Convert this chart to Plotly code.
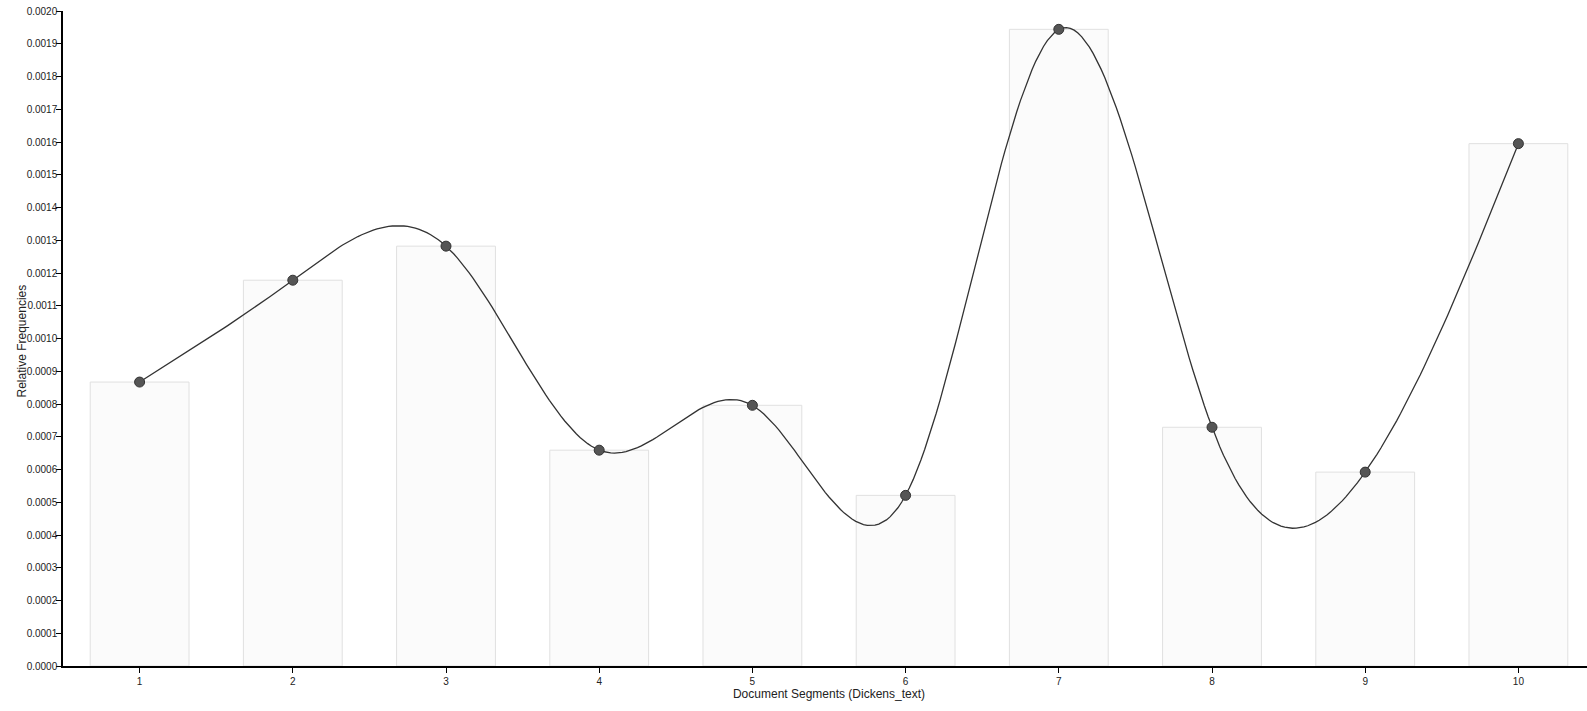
import numpy as np
import plotly.graph_objects as go

segments = [1, 2, 3, 4, 5, 6, 7, 8, 9, 10]
rel_freq = [0.000867, 0.001178, 0.001282, 0.000659, 0.000796, 0.000521, 0.001944, 0.000729, 0.000592, 0.001595]
y_ticks = [i / 10000 for i in range(0, 21)]


def natural_spline(xs, ys, n_per=40):
    """Natural cubic spline through the data points (like d3.curveNatural)."""
    x = np.asarray(xs, float)
    y = np.asarray(ys, float)
    n = len(x)
    h = np.diff(x)
    A = np.zeros((n, n))
    b = np.zeros(n)
    A[0, 0] = A[-1, -1] = 1.0
    for i in range(1, n - 1):
        A[i, i - 1] = h[i - 1]
        A[i, i] = 2 * (h[i - 1] + h[i])
        A[i, i + 1] = h[i]
        b[i] = 6 * ((y[i + 1] - y[i]) / h[i] - (y[i] - y[i - 1]) / h[i - 1])
    M = np.linalg.solve(A, b)
    xo, yo = [], []
    for i in range(n - 1):
        t = np.linspace(x[i], x[i + 1], n_per, endpoint=(i == n - 2))
        a = x[i + 1] - t
        c = t - x[i]
        s = (M[i] * a ** 3 + M[i + 1] * c ** 3) / (6 * h[i]) \
            + (y[i] / h[i] - M[i] * h[i] / 6) * a \
            + (y[i + 1] / h[i] - M[i + 1] * h[i] / 6) * c
        xo.extend(t)
        yo.extend(s)
    return xo, yo


cx, cy = natural_spline(segments, rel_freq)

fig = go.Figure()
fig.add_trace(go.Bar(
    x=segments, y=rel_freq,
    marker=dict(color="#fbfbfb", line=dict(color="#e0e0e0", width=1)),
    hoverinfo="skip", showlegend=False,
))
fig.add_trace(go.Scatter(
    x=cx, y=cy, mode="lines",
    line=dict(color="#333333", width=1.3),
    hoverinfo="skip", showlegend=False,
))
fig.add_trace(go.Scatter(
    x=segments, y=rel_freq, mode="markers",
    marker=dict(color="#555555", size=10, line=dict(color="#333333", width=1)),
    showlegend=False,
))

axis_font = dict(family="Arial, Liberation Sans, sans-serif", size=10, color="#222222")
fig.update_layout(
    width=1595, height=711,
    margin=dict(l=63, r=0, t=11, b=45),
    paper_bgcolor="white", plot_bgcolor="white",
    bargap=0.355,
    font=dict(family="Arial, Liberation Sans, sans-serif", size=10, color="#222222"),
    xaxis=dict(
        range=[0.5, 10.5], tickmode="array", tickvals=segments,
        ticktext=[str(s) for s in segments],
        showline=True, linecolor="black", linewidth=1.5,
        ticks="outside", ticklen=5, tickcolor="black",
        showgrid=False, zeroline=False, tickfont=axis_font, automargin=False,
        title=dict(text="Document Segments (Dickens_text)", font=dict(size=12, color="#222222"), standoff=2),
    ),
    yaxis=dict(
        range=[0, 0.0020], tickmode="array", tickvals=y_ticks,
        ticktext=[f"{v:.4f}" for v in y_ticks],
        showline=True, linecolor="black", linewidth=1.5,
        ticks="outside", ticklen=5, tickcolor="black", ticklabelstandoff=-3,
        showgrid=False, zeroline=False, tickfont=axis_font, automargin=False,
    ),
    annotations=[dict(
        text="Relative Frequencies", textangle=-90,
        xref="paper", yref="paper", x=0, y=0.5,
        xanchor="center", yanchor="middle", xshift=-42, yshift=-3,
        showarrow=False, font=dict(size=12, color="#222222"),
    )],
)
fig.write_html(
    "out.html",
    config={"displayModeBar": False},
    post_script="document.body.style.margin='0';document.body.style.overflow='hidden';",
)
